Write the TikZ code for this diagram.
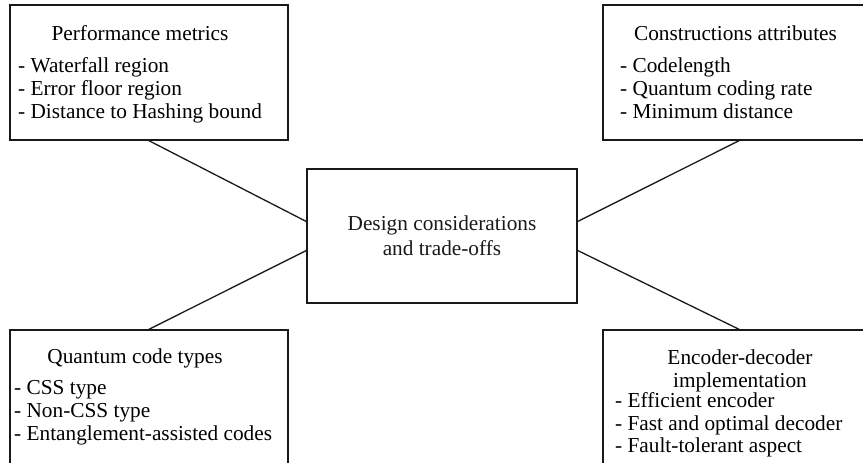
\documentclass[tikz,border=0pt]{standalone}
\usepackage{fontspec}
\setmainfont{Liberation Serif}
\usetikzlibrary{calc}
\def\itemlist#1{\begin{tabular}[t]{@{}l@{}}#1\end{tabular}}
\tikzset{
	frame/.style={draw, line width=1.4pt, inner sep=0pt, color=black!90},
	title/.style={anchor=base, inner sep=0pt},
	list/.style={anchor=base west, inner sep=0pt},
	link/.style={line width=1.3pt, color=black!90}
}

\begin{document}
\begin{tikzpicture}[x=1pt, y=-1pt, font=\fontsize{21.3}{23}\selectfont]
		%%%%% START %%%%%
		\clip (0, 0) rectangle (863, 463);
		\useasboundingbox (0, 0) rectangle (863, 463);
		
		\node[frame, minimum width=278pt, minimum height=135pt] (perf) at (149, 72.5) {};
		\node[title] (perfT) at (140, 40) {Performance metrics};
		\node[list] (perfL) at (18, 72.7) {\itemlist{- Waterfall region\\ - Error floor region\\ - Distance to Hashing bound}};
		
		\node[frame, minimum width=272pt, minimum height=135pt] (cons) at (739, 72.5) {};
		\node[title] (consT) at (735.5, 40) {Constructions attributes};
		\node[list] (consL) at (620, 72.7) {\itemlist{- Codelength\\ - Quantum coding rate\\ - Minimum distance}};
		
		\node[frame, minimum width=270pt, minimum height=134pt, align=center,
			font=\fontsize{21.3}{25}\selectfont] (dct) at (442, 236) {Design considerations\\ and trade-offs};
		
		\node[frame, minimum width=278pt, minimum height=145pt] (qct) at (149, 402.5) {};
		\node[title] (qctT) at (135, 363) {Quantum code types};
		\node[list] (qctL) at (14, 394) {\itemlist{- CSS type\\ - Non-CSS type\\ - Entanglement-assisted codes}};
		
		\node[frame, minimum width=272pt, minimum height=145pt] (enc) at (739, 402.5) {};
		\node[title, align=center, font=\fontsize{21.3}{22.3}\selectfont] (encT) at (740, 387) {Encoder-decoder\\ implementation};
		\node[list, font=\fontsize{21.3}{22.5}\selectfont] (encL) at (615, 407.5) {\itemlist{- Efficient encoder\\ - Fast and optimal decoder\\ - Fault-tolerant aspect}};
		
		\draw[link] (perf.south) -- ($(dct.west)+(0, -14.5)$);
		\draw[link] (cons.south) -- ($(dct.east)+(0, -14.5)$);
		\draw[link] (qct.north) -- ($(dct.west)+(0, 14.5)$);
		\draw[link] (enc.north) -- ($(dct.east)+(0, 14.5)$);
		
		%%%%% END %%%%%
	\end{tikzpicture}
\end{document}
